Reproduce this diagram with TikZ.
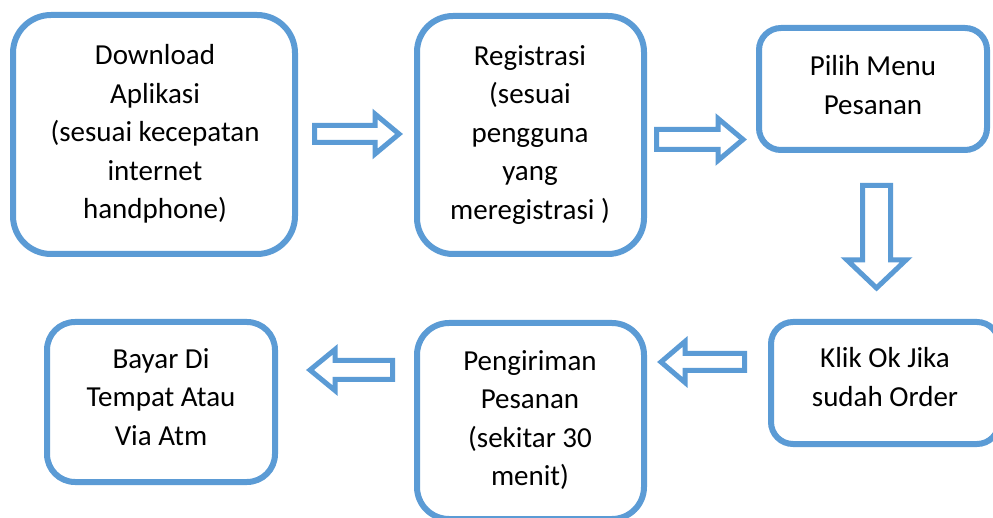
\documentclass[tikz,border=0pt]{standalone}
\usepackage{fontspec}
\setmainfont{Carlito}
\definecolor{flowblue}{HTML}{5B9BD5}
\newcommand\blockH[6]{% tail x, base x, tip x, centre y, shaft half, head half
  \draw[blockarrow] (#1,#4-#5) -- (#2,#4-#5) -- (#2,#4-#6) -- (#3,#4) -- (#2,#4+#6) -- (#2,#4+#5) -- (#1,#4+#5) -- cycle;}
\newcommand\blockV[6]{% centre x, tail y, base y, tip y, shaft half, head half
  \draw[blockarrow] (#1-#5,#2) -- (#1-#5,#3) -- (#1-#6,#3) -- (#1,#4) -- (#1+#6,#3) -- (#1+#5,#3) -- (#1+#5,#2) -- cycle;}
\tikzset{
  flowbox/.style={draw=flowblue, line width=6pt, fill=white, rectangle, inner sep=0pt},
  flowtext/.style={align=center, inner sep=0pt, font=\fontsize{29}{38.5}\selectfont},
  blockarrow/.style={draw=flowblue, line width=5pt, fill=white, line join=miter}
}
\begin{document}
\begin{tikzpicture}[x=1pt, y=-1pt]
\useasboundingbox (0,0) rectangle (993,518);
\fill[white] (0,0) rectangle (993,518);
\clip (0,0) rectangle (993,518);
% boxes
\node[flowbox, minimum width=282pt, minimum height=239pt, rounded corners=38pt] (b1) at (154,134.5) {};
\node[flowbox, minimum width=227pt, minimum height=238pt, rounded corners=36pt] (b2) at (530.5,135) {};
\node[flowbox, minimum width=228pt, minimum height=122pt, rounded corners=22pt] (b3) at (873,89) {};
\node[flowbox, minimum width=228pt, minimum height=122pt, rounded corners=22pt] (b4) at (885,383) {};
\node[flowbox, minimum width=227pt, minimum height=196pt, rounded corners=32pt] (b5) at (530.5,421) {};
\node[flowbox, minimum width=228pt, minimum height=160pt, rounded corners=28pt] (b6) at (161,402) {};
% texts
\node[flowtext] (t1) at (155,134) {Download\\Aplikasi\\(sesuai kecepatan\\internet\\handphone)};
\node[flowtext] (t2) at (530,135) {Registrasi\\(sesuai\\pengguna\\yang\\meregistrasi )};
\node[flowtext] (t3) at (873,85) {Pilih Menu\\Pesanan};
\node[flowtext] (t4) at (885,377) {Klik Ok Jika\\sudah Order};
\node[flowtext] (t5) at (530,420) {Pengiriman\\Pesanan\\(sekitar 30\\menit)};
\node[flowtext] (t6) at (161,397) {Bayar Di\\Tempat Atau\\Via Atm};
% block arrows
\blockH{314.5}{375}{399}{134}{8.5}{20}
\blockH{656.5}{718}{743}{139.5}{10}{21}
\blockV{876.5}{185.5}{260}{288}{14}{29.5}
\blockH{744.5}{685}{661}{362}{8.5}{20.5}
\blockH{392.5}{335}{310}{370}{9.5}{20.5}
\end{tikzpicture}
\end{document}
